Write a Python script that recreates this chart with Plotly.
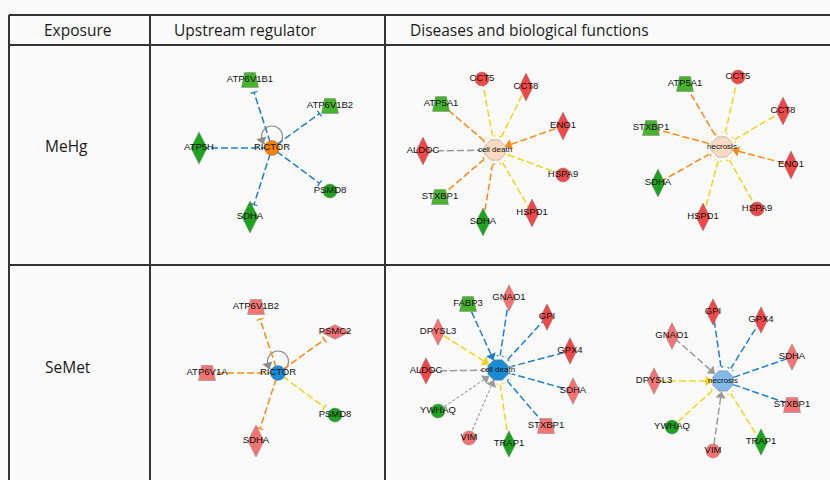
import math
import plotly.graph_objects as go

W, H = 830, 480

# ---------------- table text ----------------
HEADERS = ["Exposure", "Upstream regulator", "Diseases and biological functions"]
EXPOSURES = ["MeHg", "SeMet"]

# ---------------- network data ----------------
# Panel A: MeHg, upstream regulator
A_HUB = ["RICTOR", "act", "circle"]
A_GENES = ["ATP6V1B1", "ATP6V1B2", "ATP5H", "PSMD8", "SDHA"]
A_DX = [-22, 58, -73, 58, -22]
A_DY = [-68, -42, 0, 43, 69]
A_SHAPE = ["trap", "trap", "diamond", "circle", "diamond"]
A_EXPR = ["down", "down", "down2", "down2", "down2"]
A_REL = ["blue", "blue", "blue", "blue", "blue"]
A_END = ["T", "T", "none", "T", "T"]

# Panel B: MeHg, cell death
B_HUB = ["cell death", "actw", "octagon"]
B_GENES = ["CCT5", "CCT8", "ATP5A1", "ENO1", "ALDOC", "HSPA9", "STXBP1", "HSPD1", "SDHA"]
B_DX = [-13, 31, -54, 68, -72, 68, -55, 37, -12]
B_DY = [-71, -63, -46, -24, 1, 25, 47, 63, 72]
B_SHAPE = ["circle", "diamond", "trap", "diamond", "diamond", "circle", "trap", "diamond", "diamond"]
B_EXPR = ["up2", "up2", "down", "up2", "up2", "up2", "down", "up2", "down2"]
B_REL = ["yellow", "yellow", "orange", "orange", "gray", "yellow", "orange", "yellow", "orange"]
B_END = ["T", "T", "T", "arrow", "none", "T", "T", "T", "T"]

# Panel C: MeHg, necrosis
C_HUB = ["necrosis", "actw", "octagon"]
C_GENES = ["CCT5", "CCT8", "ATP5A1", "STXBP1", "ENO1", "SDHA", "HSPA9", "HSPD1"]
C_DX = [16, 61, -37, -71, 69, -64, 35, -19]
C_DY = [-70, -36, -63, -19, 18, 36, 62, 70]
C_SHAPE = ["circle", "diamond", "trap", "trap", "diamond", "diamond", "circle", "diamond"]
C_EXPR = ["up2", "up2", "down", "down", "up2", "down2", "up2", "up2"]
C_REL = ["yellow", "yellow", "orange", "orange", "orange", "orange", "yellow", "yellow"]
C_END = ["T", "T", "T", "T", "arrow", "T", "T", "T"]

# Panel D: SeMet, upstream regulator
D_HUB = ["RICTOR", "inh", "circle"]
D_GENES = ["ATP6V1B2", "PSMC2", "ATP6V1A", "PSMD8", "SDHA"]
D_DX = [-22, 57, -71, 57, -22]
D_DY = [-66, -41, 0, 42, 68]
D_SHAPE = ["trap", "diamondw", "trap", "circle", "diamond"]
D_EXPR = ["up", "up", "up", "down2", "up"]
D_REL = ["orange", "orange", "orange", "yellow", "orange"]
D_END = ["T", "T", "none", "T", "T"]

# Panel E: SeMet, cell death
E_HUB = ["cell death", "inh", "octagon"]
E_GENES = ["FABP3", "GNAO1", "GPI", "DPYSL3", "GPX4", "SDHA", "ALDOC", "YWHAQ", "STXBP1", "VIM", "TRAP1"]
E_DX = [-30, 11, 49, -60, 72, 75, -72, -60, 48, -29, 11]
E_DY = [-66, -72, -53, -38, -19, 21, 1, 41, 56, 68, 74]
E_SHAPE = ["trap", "diamond", "diamond", "diamond", "diamond", "diamond", "diamond", "circle", "trap", "circle", "diamond"]
E_EXPR = ["down", "up", "up2", "up", "up2", "up", "up2", "down2", "up", "up", "down2"]
E_REL = ["blue", "blue", "blue", "yellow", "blue", "blue", "gray", "grayd", "blue", "grayd", "yellow"]
E_END = ["arrow", "T", "T", "arrow", "none", "none", "none", "arrow", "T", "arrow", "T"]

# Panel F: SeMet, necrosis
F_HUB = ["necrosis", "inhw", "octagon"]
F_GENES = ["GPI", "GPX4", "GNAO1", "SDHA", "DPYSL3", "STXBP1", "YWHAQ", "TRAP1", "VIM"]
F_DX = [-10, 38, -51, 69, -69, 69, -51, 38, -10]
F_DY = [-69, -61, -45, -24, 0, 24, 46, 61, 70]
F_SHAPE = ["diamond", "diamond", "diamond", "diamond", "diamond", "trap", "circle", "diamond", "circle"]
F_EXPR = ["up2", "up2", "up", "up", "up", "up", "down2", "down2", "up"]
F_REL = ["blue", "blue", "gray", "blue", "yellow", "blue", "yellow", "yellow", "gray"]
F_END = ["T", "T", "arrow", "none", "arrow", "none", "T", "T", "arrow"]

# ---------------- styles ----------------
BG = "#fafafa"
GRID = "#333333"
HEAD_FONT = "Open Sans, Noto Sans, sans-serif"
NODE_FONT = "Liberation Sans, Arial, sans-serif"
EXPR_COLOR = {"up2": "#f04848", "up": "#f47474", "down2": "#1ea31e", "down": "#47b22c"}
HUB_COLOR = {"act": "#ff8000", "actw": "#fcd9c0", "inh": "#1a8cd6", "inhw": "#82b9e8"}
EDGE_COLOR = {"blue": "#1f7fd0", "orange": "#ff8a14", "yellow": "#f7d21c",
              "gray": "#9a9a9a", "grayd": "#9a9a9a"}
OUTLINE = "rgba(120,120,120,0.7)"

# panel placement (cell centres) and sizing
PANELS = [
    dict(hub=A_HUB, genes=A_GENES, dx=A_DX, dy=A_DY, shape=A_SHAPE, expr=A_EXPR, rel=A_REL, end=A_END,
         cx=272, cy=148, at="leaf", dsize=23),
    dict(hub=B_HUB, genes=B_GENES, dx=B_DX, dy=B_DY, shape=B_SHAPE, expr=B_EXPR, rel=B_REL, end=B_END,
         cx=495, cy=150, at="hub", dsize=20),
    dict(hub=C_HUB, genes=C_GENES, dx=C_DX, dy=C_DY, shape=C_SHAPE, expr=C_EXPR, rel=C_REL, end=C_END,
         cx=722, cy=147, at="hub", dsize=20),
    dict(hub=D_HUB, genes=D_GENES, dx=D_DX, dy=D_DY, shape=D_SHAPE, expr=D_EXPR, rel=D_REL, end=D_END,
         cx=278, cy=373, at="leaf", dsize=23),
    dict(hub=E_HUB, genes=E_GENES, dx=E_DX, dy=E_DY, shape=E_SHAPE, expr=E_EXPR, rel=E_REL, end=E_END,
         cx=498, cy=370, at="hub", dsize=19),
    dict(hub=F_HUB, genes=F_GENES, dx=F_DX, dy=F_DY, shape=F_SHAPE, expr=F_EXPR, rel=F_REL, end=F_END,
         cx=723, cy=381, at="hub", dsize=19),
]

fig = go.Figure()
shapes = []
annotations = []

tbar = {}
arrows = dict(x=[], y=[], angle=[], color=[])
rings_x, rings_y = [], []
hubs = []
leaf_pts = {"circle": dict(x=[], y=[], c=[], s=[]), "diamond-tall": dict(x=[], y=[], c=[], s=[]),
            "diamond-wide": dict(x=[], y=[], c=[], s=[])}
traps = {}
labels = dict(x=[], y=[], t=[])
hub_labels = []

for p in PANELS:
    hx, hy = p["cx"], p["cy"]
    name, state, kind = p["hub"]
    r_end = 14 if kind == "octagon" else 13
    for g, dx, dy, shp, ex, rel, en in zip(p["genes"], p["dx"], p["dy"], p["shape"],
                                           p["expr"], p["rel"], p["end"]):
        lx, ly = hx + dx, hy + dy
        d = math.hypot(dx, dy)
        ux, uy = dx / d, dy / d
        px, py = -uy, ux
        col = EDGE_COLOR[rel]
        if en == "none":
            r0 = 11 if kind == "octagon" else 4
            x0, y0 = hx + ux * r0, hy + uy * r0
            x1, y1 = lx, ly
        elif p["at"] == "hub":
            x1, y1 = lx, ly
            off = r_end + (3 if en == "arrow" else 0)
            x0, y0 = hx + ux * off, hy + uy * off
        else:
            x0, y0 = hx + ux * 6, hy + uy * 6
            x1, y1 = lx - ux * r_end, ly - uy * r_end
        dash = "3px,2px" if rel == "grayd" else "7px,3px"
        width = 1.1 if rel == "grayd" else 1.5
        fig.add_trace(go.Scatter(x=[x0, x1], y=[y0, y1], mode="lines",
                                 line=dict(color=col, width=width, dash=dash),
                                 hoverinfo="skip", showlegend=False))
        if en == "T":
            if p["at"] == "hub":
                ex_, ey_ = hx + ux * r_end, hy + uy * r_end
            else:
                ex_, ey_ = x1, y1
            t = tbar.setdefault(col, dict(x=[], y=[]))
            t["x"] += [ex_ - px * 3.5, ex_ + px * 3.5, None]
            t["y"] += [ey_ - py * 3.5, ey_ + py * 3.5, None]
        elif en == "arrow":
            ax, ay = hx + ux * (r_end + 1), hy + uy * (r_end + 1)
            arrows["x"].append(ax)
            arrows["y"].append(ay)
            arrows["angle"].append(math.degrees(math.atan2(-ux, uy)))
            arrows["color"].append(EDGE_COLOR[rel])
        if shp == "trap":
            tr = traps.setdefault(EXPR_COLOR[ex], dict(x=[], y=[]))
            tr["x"] += [lx - 5.5, lx + 5.5, lx + 8.5, lx - 8.5, lx - 5.5, None]
            tr["y"] += [ly - 7.5, ly - 7.5, ly + 7.5, ly + 7.5, ly - 7.5, None]
        else:
            key = {"circle": "circle", "diamond": "diamond-tall", "diamondw": "diamond-wide"}[shp]
            lp = leaf_pts[key]
            lp["x"].append(lx)
            lp["y"].append(ly)
            lp["c"].append(EXPR_COLOR[ex])
            lp["s"].append({"circle": 14, "diamond-tall": p["dsize"], "diamond-wide": 21}[key])
        labels["x"].append(lx)
        labels["y"].append(ly)
        labels["t"].append(g)
    if kind == "octagon":
        for k in range(41):
            a = 2 * math.pi * k / 40
            rings_x.append(hx + 14 * math.cos(a))
            rings_y.append(hy + 14 * math.sin(a))
        rings_x.append(None)
        rings_y.append(None)
        hubs.append((hx, hy, HUB_COLOR[state], "octagon", 22))
        hub_labels.append((hx, hy, name, 8))
    else:
        shapes.append(dict(type="circle", xref="x", yref="y", x0=hx - 10.5, x1=hx + 10.5,
                           y0=hy - 22, y1=hy - 1, line=dict(color="#8c8c8c", width=1.2), layer="below"))
        arrows["x"].append(hx - 10)
        arrows["y"].append(hy - 8)
        arrows["angle"].append(165)
        arrows["color"].append("#8c8c8c")
        hubs.append((hx, hy, HUB_COLOR[state], "circle", 15))
        hub_labels.append((hx, hy, name, 9.5))

for col, t in tbar.items():
    fig.add_trace(go.Scatter(x=t["x"], y=t["y"], mode="lines", line=dict(color=col, width=1.3),
                             hoverinfo="skip", showlegend=False))
fig.add_trace(go.Scatter(x=rings_x, y=rings_y, mode="lines",
                         line=dict(color="#ffffff", width=1.8, dash="4px,2px"),
                         hoverinfo="skip", showlegend=False))
fig.add_trace(go.Scatter(x=arrows["x"], y=arrows["y"], mode="markers",
                         marker=dict(symbol="triangle-up", size=9, angle=arrows["angle"], opacity=1,
                                     color=arrows["color"], line=dict(width=0)),
                         hoverinfo="skip", showlegend=False))
for hx, hy, c, sym, s in hubs:
    fig.add_trace(go.Scatter(x=[hx], y=[hy], mode="markers",
                             marker=dict(symbol=sym, size=s, color=c, opacity=1,
                                         line=dict(color=OUTLINE, width=0.6)),
                             hoverinfo="skip", showlegend=False))
for col, tr in traps.items():
    fig.add_trace(go.Scatter(x=tr["x"], y=tr["y"], mode="lines", fill="toself", fillcolor=col,
                             line=dict(color=OUTLINE, width=0.6), hoverinfo="skip", showlegend=False))
for sym, lp in leaf_pts.items():
    if lp["x"]:
        fig.add_trace(go.Scatter(x=lp["x"], y=lp["y"], mode="markers",
                                 marker=dict(symbol=sym, size=lp["s"], color=lp["c"], opacity=1,
                                             line=dict(color=OUTLINE, width=0.6)),
                                 hoverinfo="skip", showlegend=False))
fig.add_trace(go.Scatter(x=labels["x"], y=labels["y"], mode="text", text=labels["t"],
                         textfont=dict(family=NODE_FONT, size=9.5, color="#111111"),
                         hoverinfo="skip", showlegend=False))
for hx, hy, name, fs in hub_labels:
    fig.add_trace(go.Scatter(x=[hx], y=[hy], mode="text", text=[name],
                             textfont=dict(family=NODE_FONT, size=fs, color="#111111"),
                             hoverinfo="skip", showlegend=False))

# ---------------- table grid ----------------
for y in [15, 45, 265]:
    shapes.append(dict(type="line", xref="x", yref="y", x0=9, x1=W, y0=y, y1=y,
                       line=dict(color=GRID, width=2), layer="below"))
for x in [9, 150, 385]:
    shapes.append(dict(type="line", xref="x", yref="y", x0=x, x1=x, y0=15, y1=H,
                       line=dict(color=GRID, width=2), layer="below"))

annotations.append(dict(x=77, y=30, text=HEADERS[0], xanchor="center"))
annotations.append(dict(x=172, y=30, text=HEADERS[1], xanchor="left"))
annotations.append(dict(x=408, y=30, text=HEADERS[2], xanchor="left"))
annotations.append(dict(x=43, y=146, text=EXPOSURES[0], xanchor="left"))
annotations.append(dict(x=43, y=367, text=EXPOSURES[1], xanchor="left"))
for a in annotations:
    a.update(xref="x", yref="y", yanchor="middle", showarrow=False,
             font=dict(family=HEAD_FONT, size=15.5, color="#1a1a1a"))

fig.update_layout(
    width=W, height=H, margin=dict(l=0, r=0, t=0, b=0),
    paper_bgcolor=BG, plot_bgcolor=BG, showlegend=False,
    xaxis=dict(range=[0, W], visible=False, fixedrange=True),
    yaxis=dict(range=[H, 0], visible=False, fixedrange=True),
    shapes=shapes, annotations=annotations,
)
fig.write_html(
    "out.html",
    config={"displayModeBar": False},
    post_script="document.body.style.margin='0';document.body.style.padding='0';"
                "document.body.style.background='#fafafa';document.body.style.overflow='hidden';",
)
